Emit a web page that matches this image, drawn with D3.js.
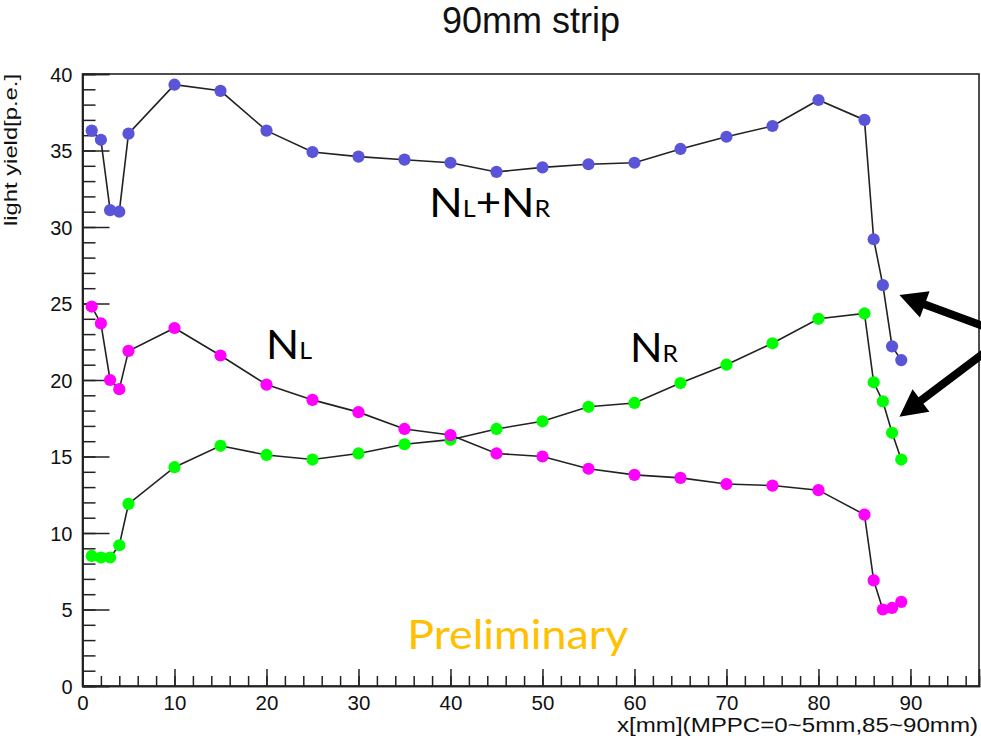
<!DOCTYPE html>
<html><head><meta charset="utf-8">
<script src="https://d3js.org/d3.v7.min.js"></script>
<style>body{margin:0;background:#fff;overflow:hidden}</style>
</head><body><svg id="c" width="981" height="742"></svg>
<script>
// ---- data ----
const positions  = [1,2,3,4,5,10,15,20,25,30,35,40,45,50,55,60,65,70,75,80,85,86,87,88,89];
const sumYield   = [36.3,35.7,31.1,31.0,36.1,39.3,38.9,36.3,34.9,34.6,34.4,34.2,33.6,33.9,34.1,34.2,35.1,35.9,36.6,38.3,37.0,29.2,26.2,22.2,21.3];
const leftYield  = [24.8,23.7,20.0,19.4,21.9,23.4,21.6,19.7,18.7,17.9,16.8,16.4,15.2,15.0,14.2,13.8,13.6,13.2,13.1,12.8,11.2,6.9,5.0,5.1,5.5];
const rightYield = [8.5,8.4,8.4,9.2,11.9,14.3,15.7,15.1,14.8,15.2,15.8,16.1,16.8,17.3,18.25,18.5,19.8,21.0,22.4,24.0,24.35,19.85,18.6,16.55,14.8];
const xMajorTicks = [0,10,20,30,40,50,60,70,80,90];
const xMinorTicks = [0,2,4,6,8,10,12,14,16,18,20,22,24,26,28,30,32,34,36,38,40,42,44,46,48,50,52,54,56,58,60,62,64,66,68,70,72,74,76,78,80,82,84,86,88,90,92,94,96];
const yMajorTicks = [0,5,10,15,20,25,30,35,40];
const yMinorTicks = [0,1,2,3,4,5,6,7,8,9,10,11,12,13,14,15,16,17,18,19,20,21,22,23,24,25,26,27,28,29,30,31,32,33,34,35,36,37,38,39,40];
const titleText = "90mm strip";
const xLabel = "x[mm](MPPC=0~5mm,85~90mm)";
const yLabel = "light yield[p.e.]";

const seriesList = [
  {name:"sum",   values: sumYield,   color:"#5954d8"},
  {name:"right", values: rightYield, color:"#00ff00"},
  {name:"left",  values: leftYield,  color:"#ff00ff"}
];

// ---- layout ----
const svg = d3.select("#c");
const x = d3.scaleLinear().domain([0, 97.45]).range([82.5, 979]);
const y = d3.scaleLinear().domain([0, 40]).range([686, 74]);

// frame
svg.append("rect").attr("x", x(0)).attr("y", y(40))
  .attr("width", x(97.45)-x(0)).attr("height", y(0)-y(40))
  .attr("fill","none").attr("stroke","#222").attr("stroke-width",1.6);

// axes
const axFont = "'Liberation Sans', Arial, Helvetica, sans-serif";
const xMinor = svg.append("g").attr("transform",`translate(0,${y(0)})`)
  .call(d3.axisBottom(x).tickValues(xMinorTicks).tickSize(-10).tickFormat(""));
const xMajor = svg.append("g").attr("transform",`translate(0,${y(0)})`)
  .call(d3.axisBottom(x).tickValues(xMajorTicks).tickSize(-17).tickPadding(7).tickFormat(d3.format("d")));
const yMinor = svg.append("g").attr("transform",`translate(${x(0)},0)`)
  .call(d3.axisLeft(y).tickValues(yMinorTicks).tickSize(-13).tickFormat(""));
const yMajor = svg.append("g").attr("transform",`translate(${x(0)},0)`)
  .call(d3.axisLeft(y).tickValues(yMajorTicks).tickSize(-27).tickPadding(10).tickFormat(d3.format("d")));
[xMinor,xMajor,yMinor,yMajor].forEach(g=>{
  g.select(".domain").attr("stroke","#222").attr("stroke-width",1.6);
  g.selectAll(".tick line").attr("stroke","#222").attr("stroke-width",1.5);
});
xMajor.selectAll(".tick text").attr("font-family",axFont).attr("font-size",20.5).attr("fill","#111").attr("dy","0.85em");
yMajor.selectAll(".tick text").attr("font-family",axFont).attr("font-size",20).attr("fill","#111").attr("dy","0.36em");

// title
svg.append("text").attr("x",531).attr("y",33).attr("text-anchor","middle")
  .attr("font-family",axFont).attr("font-size",36).attr("fill","#111").text(titleText);

// axis titles
svg.append("text").attr("x",978).attr("y",732).attr("text-anchor","end")
  .attr("font-family",axFont).attr("font-size",20).attr("fill","#111")
  .attr("textLength",361).attr("lengthAdjust","spacingAndGlyphs").text(xLabel);
svg.append("text").attr("transform","translate(17,74) rotate(-90)").attr("text-anchor","end")
  .attr("font-family",axFont).attr("font-size",18).attr("fill","#111")
  .attr("textLength",152).attr("lengthAdjust","spacingAndGlyphs").text(yLabel);

// series
const line = d3.line().x((d,i)=>x(positions[i])).y(d=>y(d));
seriesList.forEach(s=>{
  const g = svg.append("g");
  g.append("path").attr("d", line(s.values)).attr("fill","none")
    .attr("stroke","#222").attr("stroke-width",1.6);
  g.selectAll("circle").data(s.values).join("circle")
    .attr("cx",(d,i)=>x(positions[i])).attr("cy",d=>y(d)).attr("r",6.1)
    .attr("fill",s.color);
});

// annotations
const annFont = "Lato, 'Open Sans', sans-serif";
function label(xv, yv, big, small, width, extra){
  const t = svg.append("text").attr("x",x(xv)).attr("y",y(yv))
    .attr("font-family",annFont).attr("fill","#000")
    .attr("textLength",width).attr("lengthAdjust","spacingAndGlyphs");
  t.append("tspan").attr("font-size",40).text(big);
  t.append("tspan").attr("font-size",23).text(small);
  if (extra) {
    t.append("tspan").attr("font-size",40).text(extra[0]);
    t.append("tspan").attr("font-size",23).text(extra[1]);
  }
}
label(37.7, 30.65, "N", "L", 121, ["+N","R"]);
label(19.95, 21.38, "N", "L", 46);
label(59.5, 21.2, "N", "R", 48);

svg.append("text").attr("x",x(35.3)).attr("y",y(2.45))
  .attr("font-family",annFont).attr("font-size",40).attr("fill","#ffc000")
  .attr("textLength",221).attr("lengthAdjust","spacingAndGlyphs").text("Preliminary");

// arrows
function arrow(x0,y0,x1,y1){
  const dx=x1-x0, dy=y1-y0, L=Math.hypot(dx,dy), ux=dx/L, uy=dy/L, px=-uy, py=ux;
  const hl=27, hw=14, sw=4;
  const bx=x1-ux*hl, by=y1-uy*hl;
  const pts=[[x0+px*sw,y0+py*sw],[bx+px*sw,by+py*sw],[bx+px*hw,by+py*hw],[x1,y1],
             [bx-px*hw,by-py*hw],[bx-px*sw,by-py*sw],[x0-px*sw,y0-py*sw]];
  svg.append("polygon").attr("points",pts.map(p=>p.join(",")).join(" ")).attr("fill","#000");
}
arrow(x(98.5), y(23.4), x(88.8), y(25.55));
arrow(x(98.5), y(22.0), x(88.8), y(17.6));
</script>
</body></html>
